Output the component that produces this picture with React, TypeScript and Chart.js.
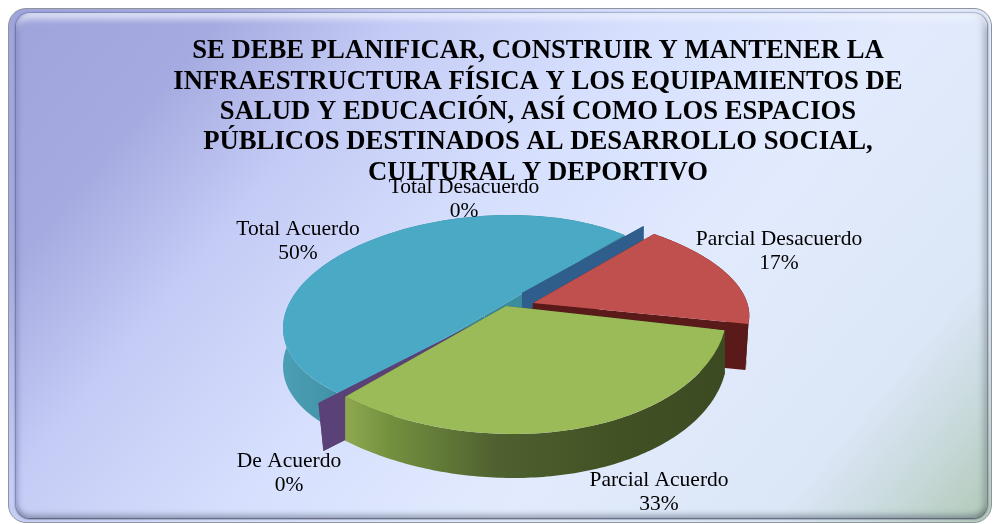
import React, { useEffect, useRef } from "react";
import { Chart, registerables } from "chart.js";

Chart.register(...registerables);

const categories = ["Total Desacuerdo", "Parcial Desacuerdo", "Parcial Acuerdo", "De Acuerdo", "Total Acuerdo"];
const values = [0, 17, 33, 0, 50];
const topColors = ["#2f5d8c", "#c0504d", "#9bbb59", "#5f497a", "#4aa9c4"];
const titleLines = [
  "SE DEBE PLANIFICAR, CONSTRUIR Y MANTENER LA",
  "INFRAESTRUCTURA FÍSICA Y LOS EQUIPAMIENTOS DE",
  "SALUD Y EDUCACIÓN, ASÍ COMO LOS ESPACIOS",
  "PÚBLICOS DESTINADOS AL DESARROLLO SOCIAL,",
  "CULTURAL Y DEPORTIVO",
];

const FONT = '"Liberation Serif", "Times New Roman", serif';

// 3D projection of each slice: where its centre lands and how its unit circle is skewed.
// "apex" is the visible wedge tip when perspective moves it away from the rim's own centre.
const views: any[] = [
  { x: 522, y: 293, a: 175, b: 0, c: 0, d: 93, depth: 30, lean: 0, cut: "#2f5d8c" },
  { x: 533, y: 303, a: 213, b: -3.5, c: 37.6, d: 92.6, depth: 46, lean: -3, cut: "#5a1a1a" },
  { x: 490, y: 296, a: 236, b: -2, c: 26.5, d: 138, depth: 44, lean: 0, cut: "#3f4e20", apex: { x: 506, y: 306 } },
  { x: 490, y: 316, a: 247, b: 0, c: 0, d: 121, depth: 48, lean: 5, cut: "#5a4278" },
  { x: 484.5, y: 315.5, a: 201.5, b: -12.6, c: 0, d: 99.7, depth: 38, lean: 0, cut: "#3b8c9c" },
];
const drawOrder = [4, 0, 1, 3, 2];
const labelAnchors = [
  { x: 464, y: 187 },
  { x: 779, y: 239 },
  { x: 659, y: 480 },
  { x: 289, y: 461 },
  { x: 298, y: 229 },
];

const sideFill = (ctx: CanvasRenderingContext2D, i: number) => {
  if (i === 2) {
    const g = ctx.createLinearGradient(345, 0, 725, 0);
    g.addColorStop(0, "#8fa94f");
    g.addColorStop(0.12, "#73903f");
    g.addColorStop(0.4, "#4f6030");
    g.addColorStop(0.7, "#425224");
    g.addColorStop(1, "#3c4a22");
    return g;
  }
  if (i === 4) {
    const g = ctx.createLinearGradient(283, 0, 350, 0);
    g.addColorStop(0, "#4b9fb4");
    g.addColorStop(1, "#3f8ea2");
    return g;
  }
  return views[i].cut;
};

const pie3d = {
  id: "pie3d",
  beforeDatasetDraw(chart: any) {
    const ctx = chart.ctx as CanvasRenderingContext2D;
    const arcs = chart.getDatasetMeta(0).data;
    for (const i of drawOrder) {
      const arc = arcs[i];
      const v = views[i];
      const R = arc.outerRadius;
      const pt = (ang: number) => ({
        x: v.x + v.a * Math.cos(ang) + v.c * Math.sin(ang),
        y: v.y + v.b * Math.cos(ang) + v.d * Math.sin(ang),
      });
      const s = arc.startAngle;
      const e = arc.endAngle;
      const tip = v.apex || v;
      // radial cut walls
      for (const ang of [s, e]) {
        const p = pt(ang);
        ctx.beginPath();
        ctx.moveTo(tip.x, tip.y);
        ctx.lineTo(p.x, p.y);
        ctx.lineTo(p.x + v.lean, p.y + v.depth);
        ctx.lineTo(tip.x + v.lean, tip.y + v.depth);
        ctx.closePath();
        ctx.fillStyle = v.cut;
        ctx.fill();
      }
      // rim wall
      if (e - s > 0.001) {
        ctx.beginPath();
        const n = 120;
        for (let k = 0; k <= n; k++) {
          const p = pt(s + ((e - s) * k) / n);
          k === 0 ? ctx.moveTo(p.x, p.y) : ctx.lineTo(p.x, p.y);
        }
        for (let k = n; k >= 0; k--) {
          const p = pt(s + ((e - s) * k) / n);
          ctx.lineTo(p.x + v.lean, p.y + v.depth);
        }
        ctx.closePath();
        ctx.fillStyle = sideFill(ctx, i);
        ctx.fill();
      }
      // top surface, drawn by the library's own arc element
      if (e - s > 0.001) {
        ctx.save();
        if (v.apex) {
          const p1 = pt(s);
          const p2 = pt(e);
          ctx.beginPath();
          ctx.moveTo(tip.x, tip.y);
          ctx.lineTo(p1.x, p1.y);
          ctx.lineTo(p1.x + 200, p1.y + 20);
          ctx.lineTo(p1.x + 200, p1.y + 400);
          ctx.lineTo(p2.x - 200, p2.y + 400);
          ctx.lineTo(p2.x, p2.y);
          ctx.closePath();
          ctx.clip();
        }
        ctx.translate(v.x, v.y);
        ctx.transform(v.a / R, v.b / R, v.c / R, v.d / R, 0, 0);
        ctx.translate(-arc.x, -arc.y);
        arc.draw(ctx);
        ctx.restore();
      }
    }
    return false;
  },
  afterDraw(chart: any) {
    const ctx = chart.ctx as CanvasRenderingContext2D;
    const data = chart.data.datasets[0].data as number[];
    const total = data.reduce((s, x) => s + x, 0);
    ctx.save();
    ctx.font = `21.5px ${FONT}`;
    ctx.fillStyle = "#000";
    ctx.textAlign = "center";
    ctx.textBaseline = "middle";
    chart.data.labels.forEach((name: string, i: number) => {
      const at = labelAnchors[i];
      ctx.fillText(name, at.x, at.y);
      ctx.fillText(`${Math.round((data[i] / total) * 100)}%`, at.x, at.y + 24);
    });
    ctx.restore();
  },
};

export default function App() {
  const ref = useRef<HTMLCanvasElement>(null);
  useEffect(() => {
    document.body.style.margin = "0";
    const chart = new Chart(ref.current!, {
      type: "pie",
      data: {
        labels: categories,
        datasets: [{ data: values, backgroundColor: topColors, borderWidth: 0, clip: false } as any],
      },
      options: {
        responsive: false,
        animation: false,
        rotation: 44,
        layout: { padding: { left: 80, top: 36, right: 0, bottom: 0 } },
        plugins: {
          legend: { display: false },
          tooltip: { enabled: false },
          title: {
            display: true,
            text: titleLines,
            color: "#000",
            padding: 0,
            font: { family: FONT, size: 26.7, weight: "bold", lineHeight: 1.14 },
          },
        },
      } as any,
      plugins: [pie3d],
    });
    return () => chart.destroy();
  }, []);
  const grad =
    "linear-gradient(130deg, #9fa5dc 0%, #a5abe0 15%, #c4cbf5 28%, #d6dffd 45%, #e2ebfd 65%, #dbe6f6 85%, #c6d8d8 93%, #b2c9b8 100%)";
  return (
    <div style={{ position: "relative", width: 996, height: 524, background: "#fff", overflow: "hidden" }}>
      <div
        style={{
          position: "absolute",
          left: 8,
          top: 8,
          width: 984,
          height: 515,
          boxSizing: "border-box",
          borderRadius: 18,
          border: "1.5px solid #8f949c",
          background: grad,
        }}
      />
      <div
        style={{
          position: "absolute",
          left: 16,
          top: 13,
          width: 971,
          height: 505,
          borderRadius: 14,
          background: grad,
          boxShadow:
            "0 1px 2px rgba(60,65,85,0.85), -1px 0 2px rgba(90,95,150,0.5), 1px 0 2px rgba(60,65,85,0.5), inset 5px 0 5px -3px rgba(110,115,170,0.5), inset 0 9px 6px -3px rgba(240,244,255,0.75), inset -6px 0 6px -3px rgba(70,80,90,0.4), inset 0 -7px 5px -3px rgba(70,80,100,0.35)",
        }}
      />
      <canvas ref={ref} width={996} height={524} style={{ position: "absolute", left: 0, top: 0, display: "block" }} />
    </div>
  );
}
